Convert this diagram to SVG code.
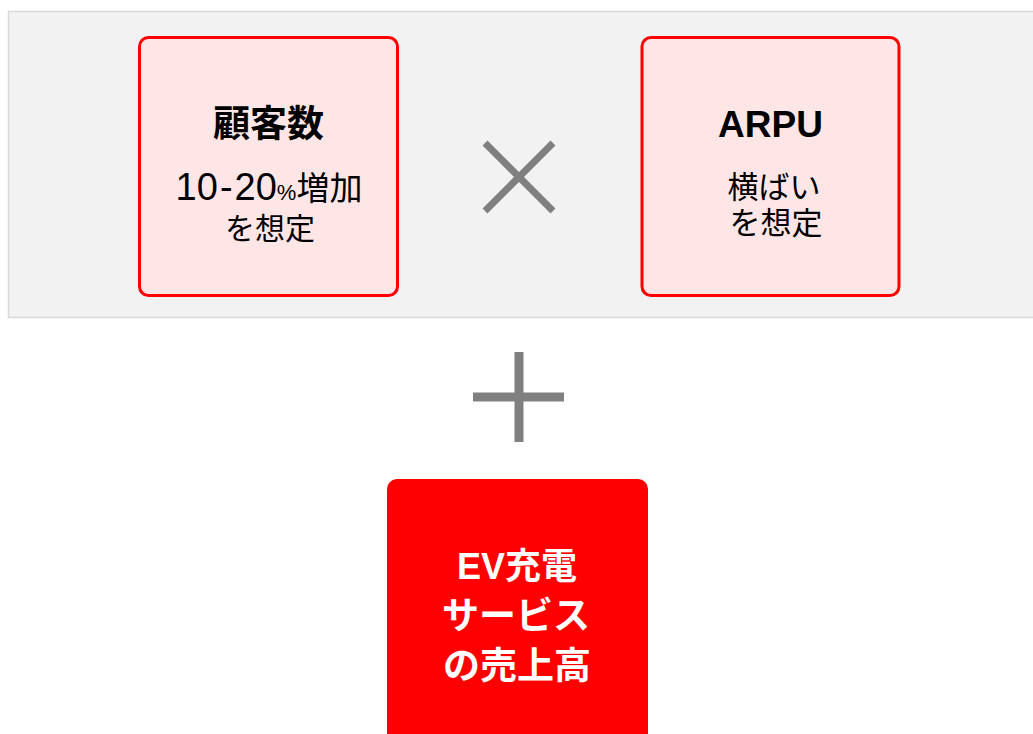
<svg xmlns="http://www.w3.org/2000/svg" width="1033" height="734" viewBox="0 0 1033 734">
<style>
.jp{font-family:"Liberation Sans","Noto Sans CJK JP",sans-serif;fill:#000;text-anchor:middle}
.b{font-weight:bold}
.card{fill:#ffe6e6;stroke:#ff0000;stroke-width:3}
.op{stroke:#808080;fill:none}
.w{fill:#fff}
</style>
<rect id="panel" x="8.5" y="11.5" width="1040" height="306" fill="#f2f2f2" stroke="#d9d9d9" stroke-width="1.5"/>
<g id="customers">
<rect class="card" x="139.5" y="37.5" width="258" height="258" rx="9"/>
<text class="jp b" x="268.5" y="137" font-size="37">顧客数</text>
<text class="jp" x="269" y="200"><tspan font-size="38">10</tspan><tspan font-size="38" dx="2">-</tspan><tspan font-size="38" dx="2">20</tspan><tspan font-size="22">%</tspan><tspan font-size="33">増加</tspan></text>
<text class="jp" x="270" y="239" font-size="30">を想定</text>
</g>
<g id="arpu">
<rect class="card" x="642" y="37.5" width="257" height="258" rx="9"/>
<text class="jp b" x="770.5" y="137" font-size="37">ARPU</text>
<text class="jp" x="774" y="198" font-size="31">横ばい</text>
<text class="jp" x="776" y="234" font-size="31">を想定</text>
</g>
<g id="operators">
<path class="op" stroke-width="7" d="M485 143L553 211M553 143L485 211"/>
<path class="op" stroke-width="9" d="M519 352V442M473 397H564"/>
</g>
<g id="revenue">
<rect x="387" y="479" width="261" height="280" rx="10" fill="#ff0000"/>
<text class="jp b w" x="517" y="579" font-size="36">EV充電</text>
<text class="jp b w" x="516" y="629" font-size="37">サービス</text>
<text class="jp b w" x="517" y="679" font-size="37">の売上高</text>
</g>
</svg>
